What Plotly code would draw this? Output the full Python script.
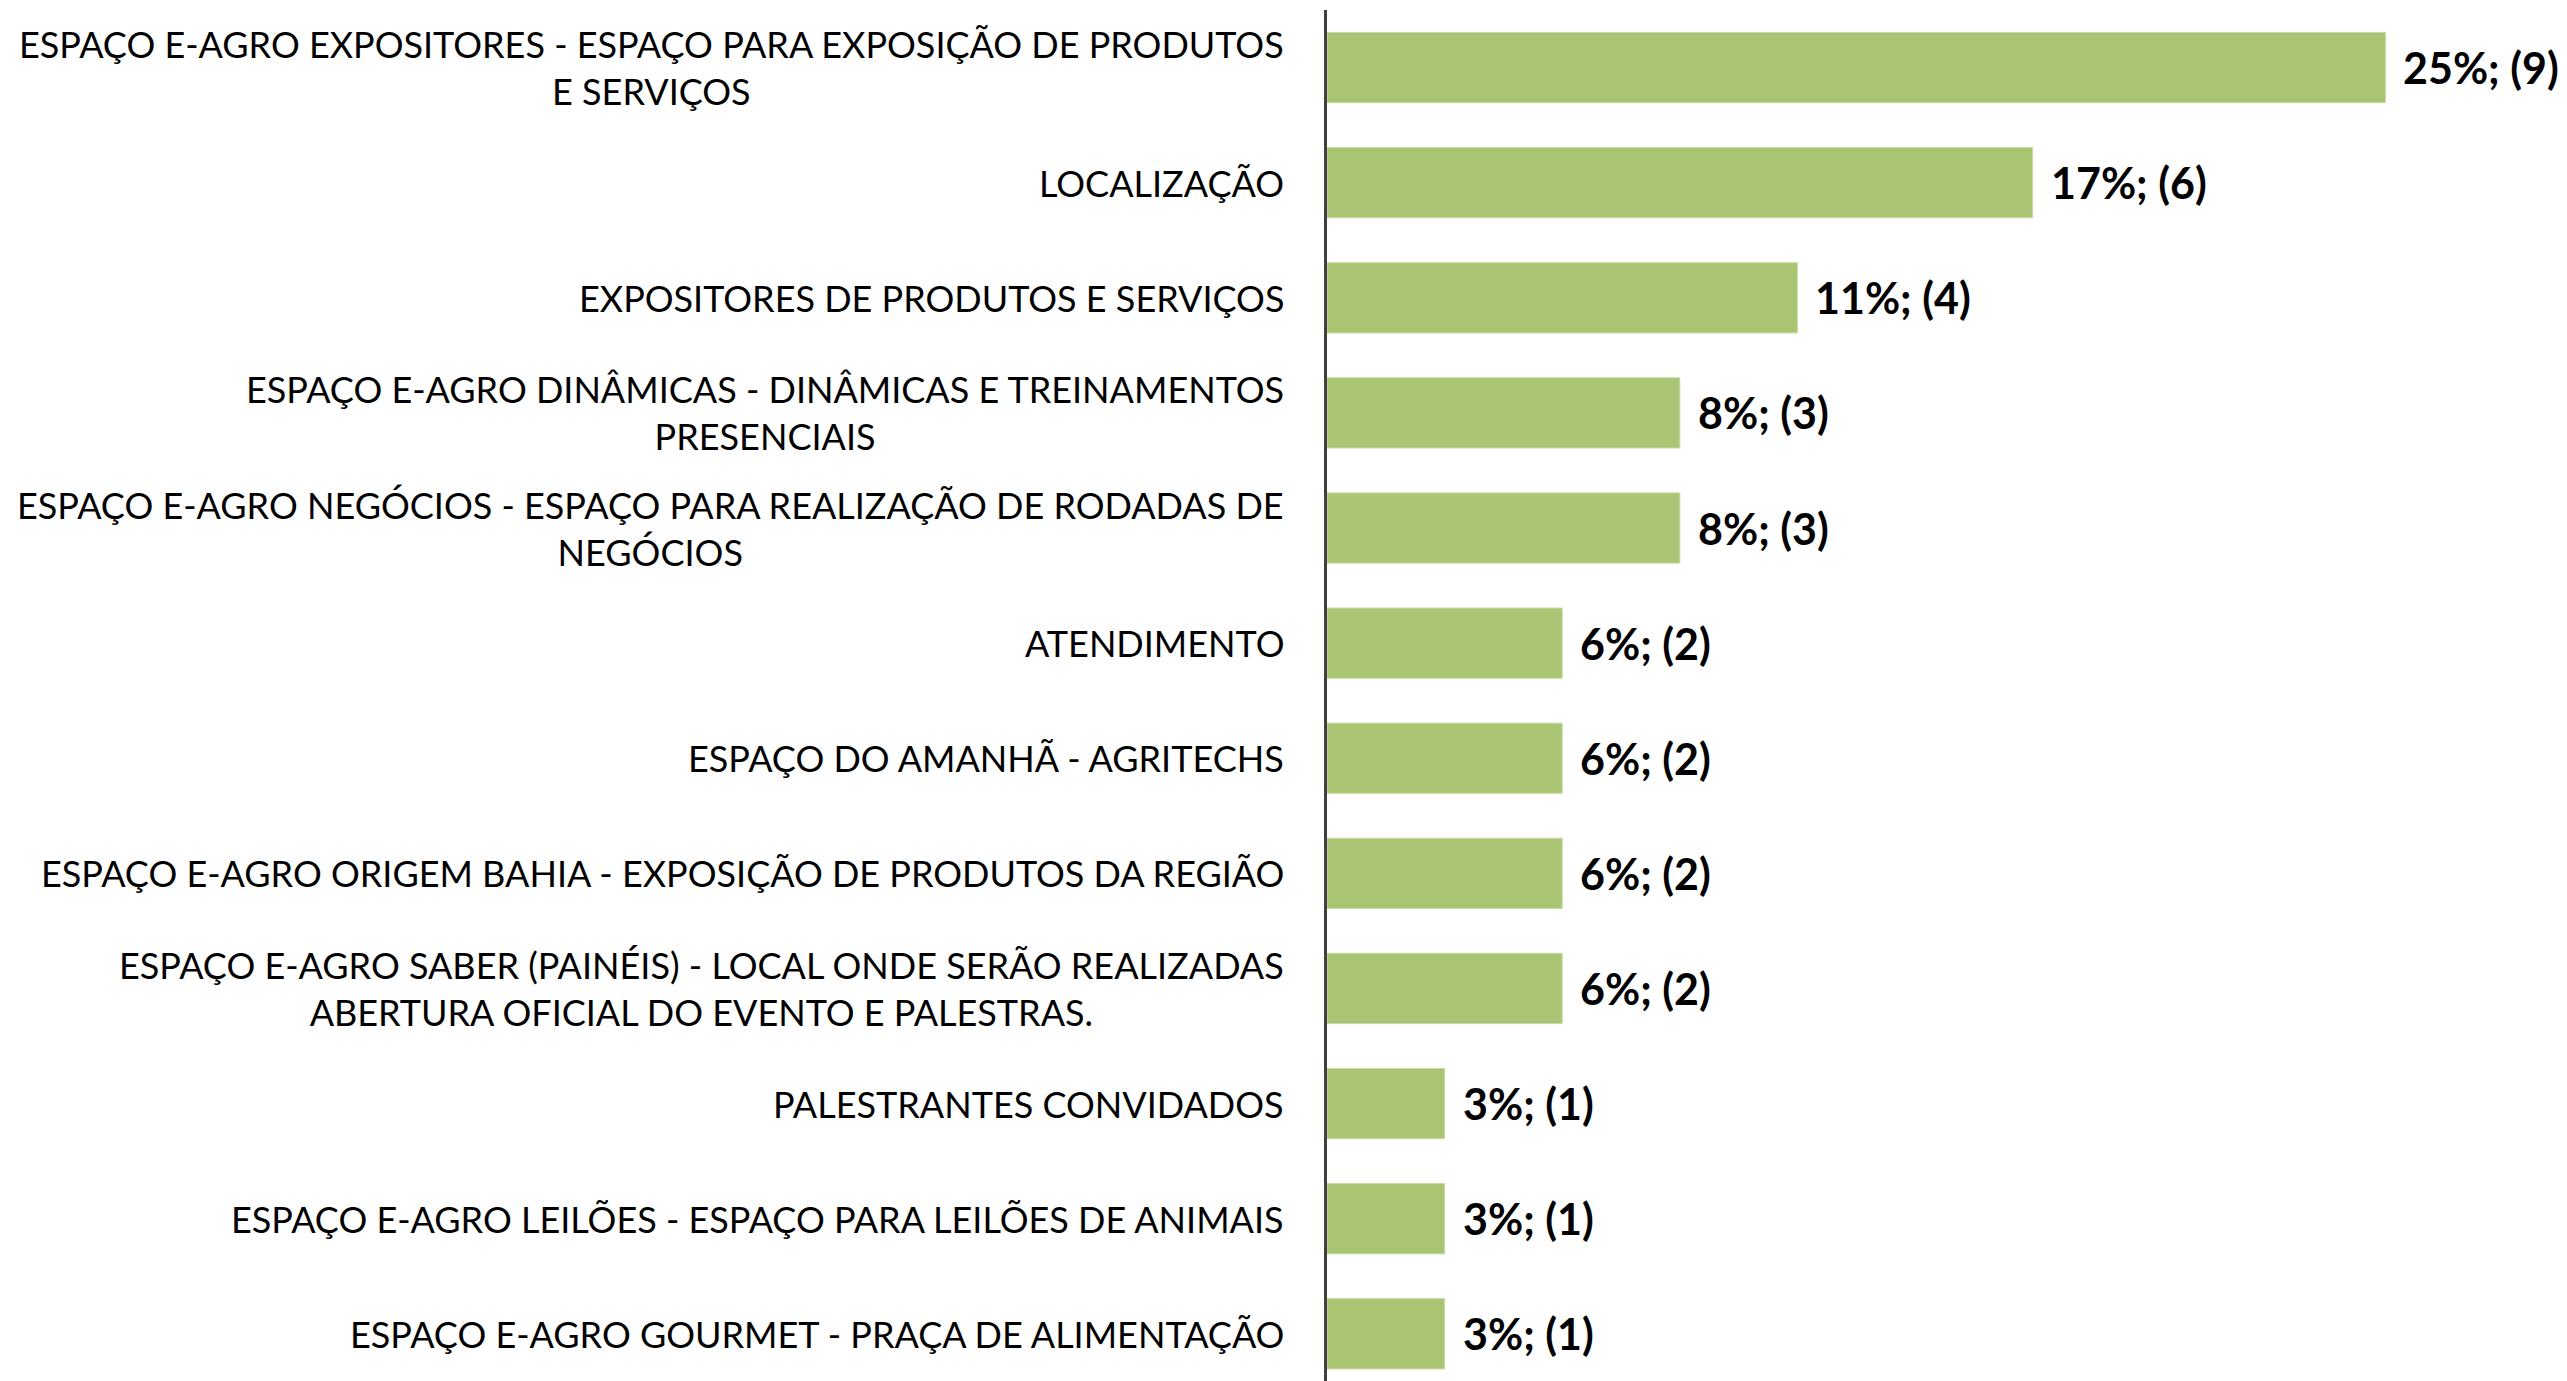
import plotly.graph_objects as go

categories = [
    "ESPAÇO E-AGRO EXPOSITORES - ESPAÇO PARA EXPOSIÇÃO DE PRODUTOS<br>E SERVIÇOS",
    "LOCALIZAÇÃO",
    "EXPOSITORES DE PRODUTOS E SERVIÇOS",
    "ESPAÇO E-AGRO DINÂMICAS - DINÂMICAS E TREINAMENTOS<br>PRESENCIAIS",
    "ESPAÇO E-AGRO NEGÓCIOS - ESPAÇO PARA REALIZAÇÃO DE RODADAS DE<br>NEGÓCIOS",
    "ATENDIMENTO",
    "ESPAÇO DO AMANHÃ - AGRITECHS",
    "ESPAÇO E-AGRO ORIGEM BAHIA - EXPOSIÇÃO DE PRODUTOS DA REGIÃO",
    "ESPAÇO E-AGRO SABER (PAINÉIS) - LOCAL ONDE SERÃO REALIZADAS<br>ABERTURA OFICIAL DO EVENTO E PALESTRAS.",
    "PALESTRANTES CONVIDADOS",
    "ESPAÇO E-AGRO LEILÕES - ESPAÇO PARA LEILÕES DE ANIMAIS",
    "ESPAÇO E-AGRO GOURMET - PRAÇA DE ALIMENTAÇÃO",
]
counts = [9, 6, 4, 3, 3, 2, 2, 2, 2, 1, 1, 1]
percents = [25, 17, 11, 8, 8, 6, 6, 6, 6, 3, 3, 3]

labels = [f"{p}%; ({c})" for p, c in zip(percents, counts)]
ids = list(range(len(categories)))

FONT = "Lato"

fig = go.Figure(go.Bar(
    x=counts,
    y=ids,
    orientation="h",
    marker=dict(color="#A9C573", line=dict(color="#C6DAA0", width=1)),
    hoverinfo="skip",
    width=0.61,
))

for i, (c, lab) in enumerate(zip(counts, labels)):
    fig.add_annotation(
        x=c, xref="x", xanchor="left", xshift=16,
        y=i, yref="y", yanchor="middle",
        text=f"<b>{lab}</b>", showarrow=False,
        font=dict(family=FONT, size=43, color="#000000"),
    )

for i, cat in zip(ids, categories):
    fig.add_annotation(
        x=0, xref="paper", xanchor="right", xshift=-41,
        y=i, yref="y", yanchor="middle",
        text=cat, showarrow=False, align="center",
        font=dict(family=FONT, size=36, color="#000000"),
    )

fig.update_layout(
    width=2559, height=1373,
    margin=dict(l=1319, r=0, t=2, b=0),
    paper_bgcolor="white", plot_bgcolor="white",
    showlegend=False,
    xaxis=dict(range=[0, 10.544], visible=False, showgrid=False, zeroline=False),
    yaxis=dict(range=[11.41, -0.5], showticklabels=False, showgrid=False,
               zeroline=False, ticks="", showline=True, linecolor="#404040",
               linewidth=3),
)

fig.write_html("out.html")
